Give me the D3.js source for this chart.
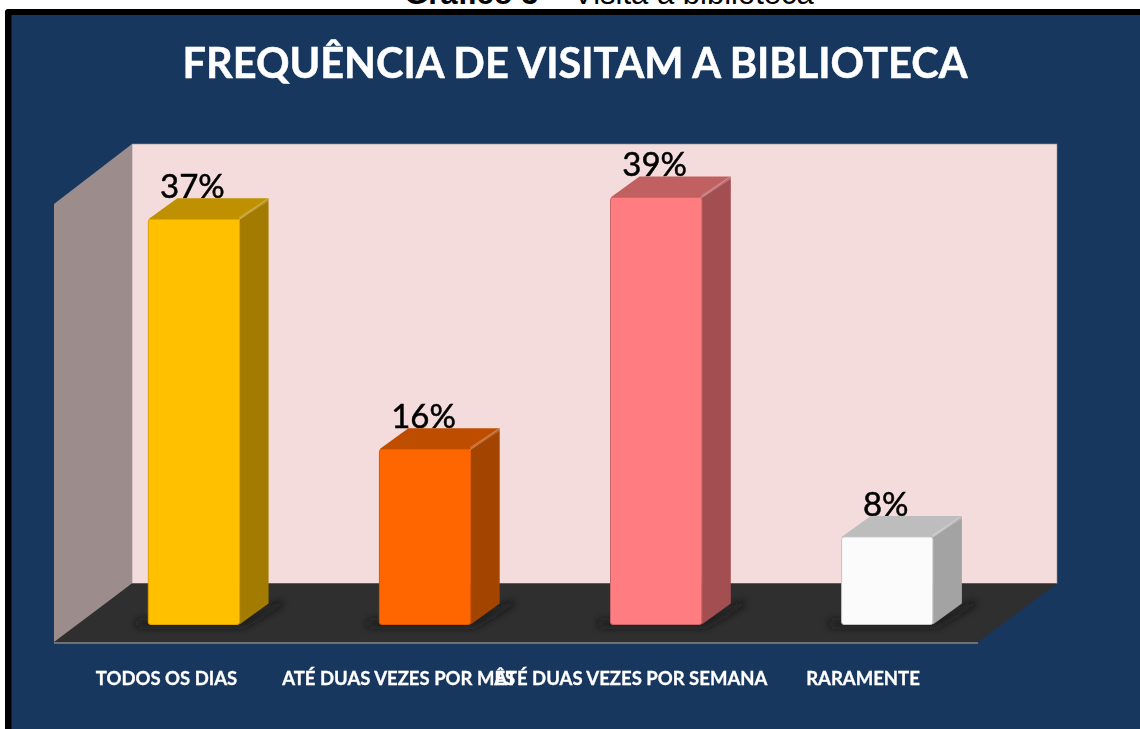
<!DOCTYPE html>
<html>
<head>
<meta charset="utf-8">
<script src="https://cdn.jsdelivr.net/npm/d3@7"></script>
<style>
  html, body { margin: 0; padding: 0; background: #fff; }
  svg { display: block; }
  text { font-family: Lato, "Open Sans", sans-serif; }
</style>
</head>
<body>
<div id="chart"></div>
<script>
const categories = ['TODOS OS DIAS', 'ATÉ DUAS VEZES POR MÊS', 'ATÉ DUAS VEZES POR SEMANA', 'RARAMENTE']
const percentages = [37, 16, 39, 8]
const frontColors = ['#ffc000', '#ff6600', '#ff7c80', '#fbfbfb']
const edgeColors = ['#d9a300', '#d95700', '#c9666a', '#c4c4c4']
const topColors = ['#bf9000', '#bf4d00', '#c06060', '#bdbdbd']
const sideColors = ['#a37b00', '#a34400', '#a34f52', '#a3a3a3']

const config = {
    width: 1140,
    height: 729,
    wall: { left: 132, right: 1057, top: 144, bottom: 583.5 },
    bars: { left: 78.4, right: 1002.8, base: 624.5 },
    depth: { x: 29, y: -21 },
    labels: { left: 166, right: 862.5, y: 672 },
    floorFront: 644,
    floorLeft: 54,
    floorRight: 978,
}

const svg = d3
    .select('#chart')
    .append('svg')
    .attr('width', config.width)
    .attr('height', config.height)
    .attr('viewBox', `0 0 ${config.width} ${config.height}`)

const defs = svg.append('defs')
defs.append('filter').attr('id', 'shadow').attr('x', '-30%').attr('y', '-60%').attr('width', '160%').attr('height', '220%')
    .append('feGaussianBlur').attr('stdDeviation', 4)
defs.append('filter').attr('id', 'soft')
    .append('feGaussianBlur').attr('stdDeviation', 0.5)

const scaleX = d3
    .scaleBand()
    .domain(categories)
    .range([config.bars.left, config.bars.right])
    .paddingInner(0.605)
    .paddingOuter(0.3025)

const scaleY = d3
    .scaleLinear()
    .domain([0, 40])
    .range([config.bars.base, config.bars.base - 438])

// the category labels are not centred under the bars in the original
const scaleLabels = d3
    .scalePoint()
    .domain(categories)
    .range([config.labels.left, config.labels.right])

const poly = points => points.map(p => p.join(',')).join(' ')

// caption of the page, cut by the top edge of the picture
const caption = svg.append('text')
    .attr('x', 609)
    .attr('y', 4)
    .attr('text-anchor', 'middle')
    .style('font-family', '"Liberation Sans", Arial, sans-serif')
    .style('font-size', '31px')
    .attr('fill', '#000')
caption.append('tspan').style('font-weight', 'bold').text('Gráfico 5 – ')
caption.append('tspan').text('Visita à biblioteca')

// frame and background
svg.append('rect')
    .attr('x', 5).attr('y', 9)
    .attr('width', config.width).attr('height', config.height)
    .attr('rx', 3)
    .attr('fill', '#000')
svg.append('rect')
    .attr('x', 11.5).attr('y', 15)
    .attr('width', config.width).attr('height', config.height)
    .attr('fill', '#18375f')

svg.append('text')
    .attr('x', 575)
    .attr('y', 78)
    .attr('text-anchor', 'middle')
    .attr('fill', '#fff')
    .attr('stroke', '#fff')
    .attr('stroke-width', 0.5)
    .attr('filter', 'url(#soft)')
    .style('font-size', '41.5px')
    .style('font-weight', 'bold')
    .text('FREQUÊNCIA DE VISITAM A BIBLIOTECA')

// back wall, side wall and floor
const w = config.wall
svg.append('rect')
    .attr('x', w.left).attr('y', w.top)
    .attr('width', w.right - w.left).attr('height', w.bottom - w.top)
    .attr('fill', '#f4dcdc')
    .attr('stroke', '#8a8f9c')
    .attr('stroke-width', 0.6)
svg.append('polygon')
    .attr('points', poly([[config.floorLeft, 204], [w.left, w.top], [w.left, w.bottom], [config.floorLeft, config.floorFront]]))
    .attr('fill', '#9c8c8b')
svg.append('polygon')
    .attr('points', poly([[config.floorLeft, config.floorFront - 2], [w.left, w.bottom], [w.right, w.bottom], [config.floorRight, config.floorFront - 2]]))
    .attr('fill', '#2f2f2f')
svg.append('rect')
    .attr('x', config.floorLeft).attr('y', config.floorFront - 2)
    .attr('width', config.floorRight - config.floorLeft).attr('height', 2)
    .attr('fill', '#707070')

const bars = svg.selectAll('.bar')
    .data(categories)
    .enter()
    .append('g')
    .attr('class', 'bar')

const d = config.depth
const barW = scaleX.bandwidth()

// soft shadow on the floor, along the base and the right side
bars.append('polygon')
    .attr('points', c => {
        const x0 = scaleX(c)
        const x1 = x0 + barW
        const y0 = scaleY(0)
        return poly([
            [x0 - 12, y0 - 4], [x0 - 12, y0 + 2], [x1 + 4, y0 + 2],
            [x1 + d.x + 14, y0 + d.y + 1], [x1 + d.x + 14, y0 + d.y - 3], [x1, y0 - 4],
        ])
    })
    .attr('fill', '#141414')
    .attr('filter', 'url(#shadow)')

// value labels go first, the cap of the bar overlaps their foot
bars.append('text')
    .attr('x', c => scaleX(c) + barW / 2 - 1.5)
    .attr('y', (c, i) => scaleY(percentages[i]) - 21)
    .attr('text-anchor', 'middle')
    .attr('fill', '#000')
    .attr('stroke', '#000')
    .attr('stroke-width', 0.5)
    .attr('filter', 'url(#soft)')
    .style('font-size', '33px')
    .text((c, i) => percentages[i] + '%')

bars.append('polygon')
    .attr('points', (c, i) => {
        const x1 = scaleX(c) + barW
        const y = scaleY(percentages[i])
        return poly([[x1, y], [x1 + d.x, y + d.y], [x1 + d.x, scaleY(0) + d.y], [x1, scaleY(0)]])
    })
    .attr('fill', (c, i) => sideColors[i])

bars.append('polygon')
    .attr('points', (c, i) => {
        const x0 = scaleX(c)
        const y = scaleY(percentages[i])
        return poly([[x0, y], [x0 + barW, y], [x0 + barW + d.x, y + d.y], [x0 + d.x, y + d.y]])
    })
    .attr('fill', (c, i) => topColors[i])

// lighter bevel where the cap meets the side
bars.append('line')
    .attr('x1', c => scaleX(c) + barW)
    .attr('x2', c => scaleX(c) + barW + d.x)
    .attr('y1', (c, i) => scaleY(percentages[i]) - 1)
    .attr('y2', (c, i) => scaleY(percentages[i]) + d.y + 1)
    .attr('stroke', '#fff')
    .attr('stroke-opacity', 0.18)
    .attr('stroke-width', 3)
    .attr('filter', 'url(#soft)')

bars.append('rect')
    .attr('x', c => scaleX(c))
    .attr('y', (c, i) => scaleY(percentages[i]))
    .attr('width', barW)
    .attr('height', (c, i) => scaleY(0) - scaleY(percentages[i]))
    .attr('rx', 2.5)
    .attr('fill', (c, i) => frontColors[i])
    .attr('stroke', (c, i) => edgeColors[i])
    .attr('stroke-width', 1)

const xAxis = d3.axisBottom(scaleLabels).tickSize(0).tickPadding(0)

svg.append('g')
    .attr('transform', `translate(0, ${config.labels.y})`)
    .call(xAxis)
    .call(g => g.select('.domain').remove())
    .selectAll('text')
    .attr('fill', '#fff')
    .attr('stroke', '#fff')
    .attr('stroke-width', 0.3)
    .attr('filter', 'url(#soft)')
    .style('font-family', 'Lato, "Open Sans", sans-serif')
    .style('font-size', '18.5px')
    .style('font-weight', 'bold')
</script>
</body>
</html>
